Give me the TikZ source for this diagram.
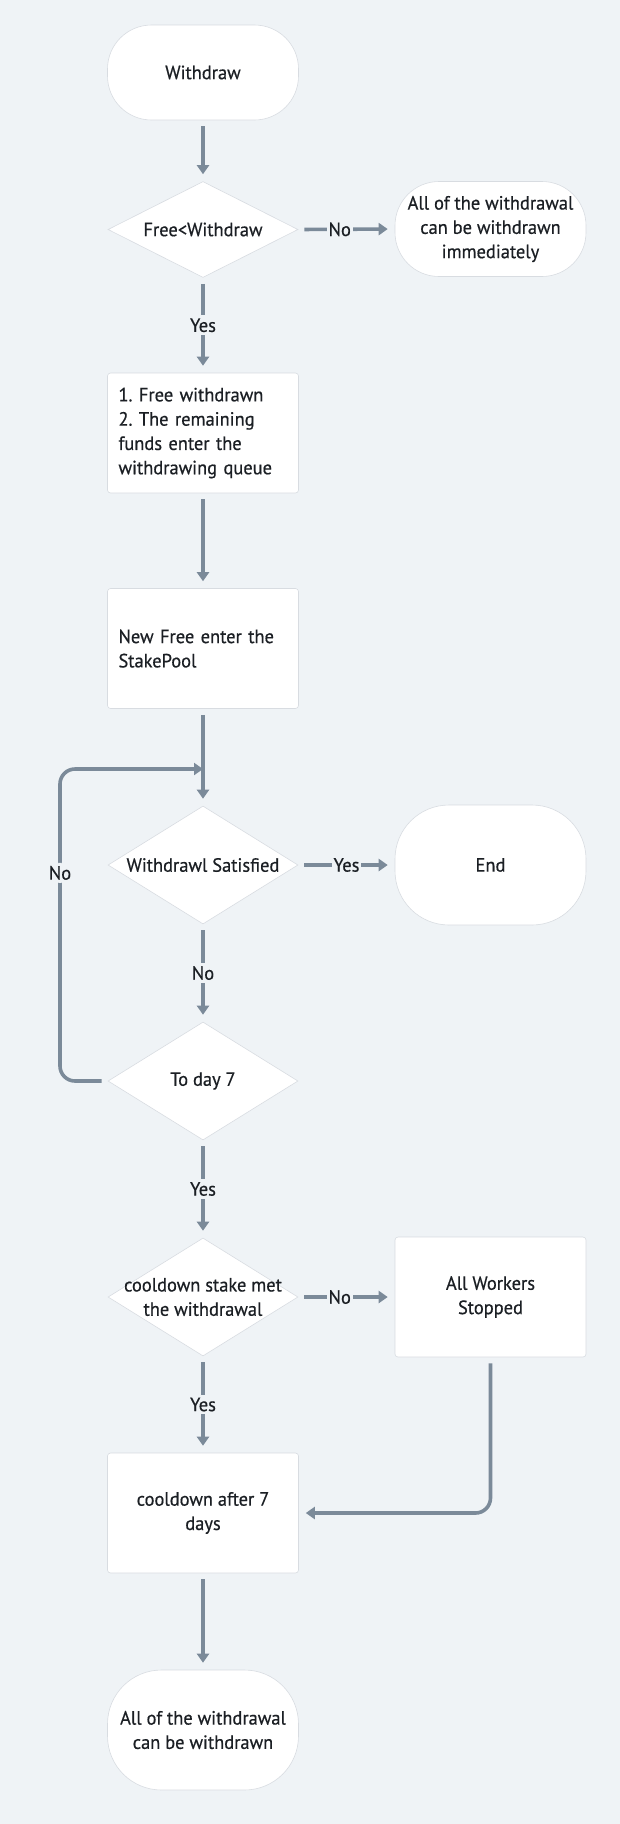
\documentclass[tikz,border=0pt]{standalone}
\usepackage{fontspec}
\setmainfont{PT Sans}[FakeStretch=0.96, FakeBold=0.5]
\frenchspacing
\usetikzlibrary{shapes.geometric,arrows.meta,calc}
\definecolor{bgc}{HTML}{EFF3F6}
\definecolor{linec}{HTML}{7B8A99}
\definecolor{bordc}{HTML}{D8DCE1}
\definecolor{txtc}{HTML}{1B1F24}
\tikzset{
  base/.style={draw=bordc, line width=0.6pt, fill=white, text=txtc,
    font=\fontsize{19.2}{24.3}\selectfont, inner sep=0pt},
  termA/.style={base, rounded corners=44pt, minimum width=191pt, minimum height=95pt, align=center},
  termB/.style={base, rounded corners=54pt, minimum width=191pt, minimum height=120pt, align=center},
  boxL/.style={base, rounded corners=3pt, minimum width=191pt, minimum height=120pt,
    text width=169pt, inner xsep=11pt, align=left},
  boxC/.style={base, rounded corners=3pt, minimum width=191pt, minimum height=120pt, align=center},
  dia/.style={base, shape=diamond, minimum width=190pt, minimum height=118pt},
  diaA/.style={base, shape=diamond, minimum width=190pt, minimum height=96pt},
  dtxt/.style={text=txtc, font=\fontsize{19.2}{24.3}\selectfont, align=center, inner sep=0pt},
  conn/.style={draw=linec, line width=3.6pt, -{Triangle[length=9pt,width=12pt]},
    shorten <=6pt, shorten >=7pt},
  lbl/.style={fill=bgc, text=txtc, font=\fontsize{19.2}{24}\selectfont, inner xsep=2pt, inner ysep=3pt},
}
\begin{document}
\begin{tikzpicture}[x=1pt,y=-1pt]
\fill[bgc] (0,0) rectangle (620,1824);

% shapes
\node[termA] (w) at (203,72.5) {Withdraw};
\node[diaA] (d1) at (203,229.5) {};
\node[dtxt] (d1t) at (d1) {Free<Withdraw};
\node[termA] (r1) at (490.5,229) {All of the withdrawal\\can be withdrawn\\immediately};
\node[boxL] (b1) at (203,433) {1. Free withdrawn\\2. The remaining\\funds enter the\\withdrawing queue};
\node[boxL] (b2) at (203,648.5) {New Free enter the\\StakePool};
\node[dia] (d2) at (203,865) {};
\node[dtxt] (d2t) at (d2) {Withdrawl Satisfied};
\node[termB] (e) at (490.5,865) {End};
\node[dia] (d3) at (203,1081) {};
\node[dtxt] (d3t) at (d3) {To day 7};
\node[dia] (d4) at (203,1297) {};
\node[dtxt] (d4t) at (d4) {cooldown stake met\\the withdrawal};
\node[boxC] (aws) at (490.5,1297) {All Workers\\Stopped};
\node[boxC] (b3) at (203,1513) {cooldown after 7\\days};
\node[termB] (f) at (203,1730) {All of the withdrawal\\can be withdrawn};

% helper coordinates
\coordinate (j) at (203,769);
\coordinate (lx) at (60,0);

% connectors
\draw[conn] (w) -- (d1);
\draw[conn] (d1.east) -- node[lbl,pos=0.43]{No} (r1.west);
\draw[conn] (d1) -- node[lbl,pos=0.5]{Yes} (b1);
\draw[conn] (b1) -- (b2);
\draw[conn] (b2) -- (d2);
\draw[conn] (d2.east) -- node[lbl,pos=0.5]{Yes} (e.west);
\draw[conn] (d2) -- node[lbl,pos=0.5]{No} (d3);
\draw[conn, rounded corners=15pt, shorten >=0pt] (d3.west) -- (d3.west -| lx) -- node[lbl,pos=0.667]{No} (j -| lx) -- (j);
\draw[conn] (d3) -- node[lbl,pos=0.5]{Yes} (d4);
\draw[conn] (d4.east) -- node[lbl,pos=0.43]{No} (aws.west);
\draw[conn] (d4) -- node[lbl,pos=0.5]{Yes} (b3);
\draw[conn, rounded corners=15pt] (aws.south) |- (b3.east);
\draw[conn] (b3) -- (f);
\end{tikzpicture}
\end{document}
